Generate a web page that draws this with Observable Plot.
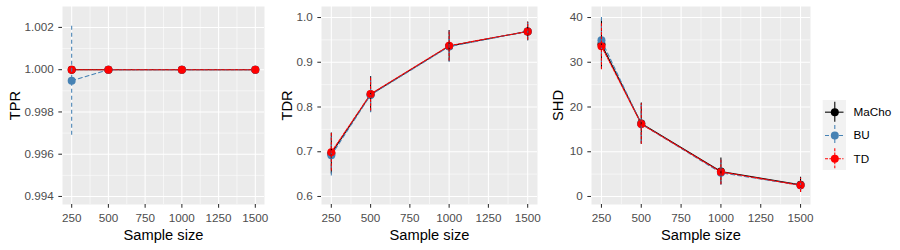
<!DOCTYPE html>
<html><head><meta charset="utf-8">
<script src="https://cdn.jsdelivr.net/npm/d3@7"></script>
<script src="https://cdn.jsdelivr.net/npm/@observablehq/plot@0.6"></script>
<style>
body{margin:0;background:#fff;}
#wrap{position:relative;width:900px;height:250px;font-family:"Liberation Sans",Arial,sans-serif;}
.p{position:absolute;top:0;}
</style></head><body><div id="wrap"></div>
<script>
// ---------- data ----------
const sampleSizes = [250, 500, 1000, 1500];
const seriesNames = ["MaCho", "BU", "TD"];
const seriesColors = ["#000000", "#4682B4", "#FF0000"];
const seriesDash = [null, "4,3", "3,1.3"];

const tprMaCho = [1, 1, 1, 1];            const tprMaChoSd = [0, 0, 0, 0];
const tprBU    = [0.99948, 1, 1, 1];      const tprBUSd    = [0.00258, 0, 0, 0];
const tprTD    = [1, 1, 1, 1];            const tprTDSd    = [0, 0, 0, 0];

const tdrMaCho = [0.696, 0.828, 0.936, 0.969]; const tdrMaChoSd = [0.046, 0.040, 0.035, 0.021];
const tdrBU    = [0.692, 0.827, 0.935, 0.969]; const tdrBUSd    = [0.046, 0.040, 0.035, 0.021];
const tdrTD    = [0.699, 0.829, 0.937, 0.969]; const tdrTDSd    = [0.042, 0.038, 0.034, 0.020];

const shdMaCho = [34.0, 16.3, 5.6, 2.6]; const shdMaChoSd = [5.5, 4.6, 3.0, 1.7];
const shdBU    = [34.9, 16.2, 5.3, 2.5]; const shdBUSd    = [5.2, 4.4, 2.8, 1.6];
const shdTD    = [33.6, 16.2, 5.5, 2.5]; const shdTDSd    = [5.3, 4.5, 2.9, 1.6];

const xTicks = [250, 500, 750, 1000, 1250, 1500];
const tprTicks = [0.994, 0.996, 0.998, 1.000, 1.002];
const tdrTicks = [0.6, 0.7, 0.8, 0.9, 1.0];
const shdTicks = [0, 10, 20, 30, 40];

// ---------- helpers ----------
function rowsFor(means, sds) {
  const out = [];
  seriesNames.forEach((s, k) => {
    sampleSizes.forEach((n, i) => {
      out.push({series: s, k, n, v: means[k][i], lo: means[k][i] - sds[k][i], hi: means[k][i] + sds[k][i], sd: sds[k][i]});
    });
  });
  return out;
}
const mids = t => d3.pairs(t).map(([a, b]) => (a + b) / 2);

const FONT = '"Liberation Sans", Arial, sans-serif';
const wrap = document.getElementById("wrap");

function panel({left, width, marginLeft, marginRight, yDomain, yTicks, yFormat, yLabel, labelDx, rows}) {
  const marks = [
    Plot.frame({fill: "#EBEBEB", stroke: null}),
    Plot.ruleY(mids(yTicks), {stroke: "white", strokeWidth: 0.55}),
    Plot.ruleX(mids(xTicks), {stroke: "white", strokeWidth: 0.55}),
    Plot.ruleY(yTicks, {stroke: "white", strokeWidth: 1.07}),
    Plot.ruleX(xTicks, {stroke: "white", strokeWidth: 1.07})
  ];
  seriesNames.forEach((s, k) => {
    marks.push(Plot.line(rows.filter(d => d.k === k), {x: "n", y: "v", stroke: seriesColors[k], strokeWidth: 1.07, strokeDasharray: seriesDash[k]}));
  });
  seriesNames.forEach((s, k) => {
    marks.push(Plot.dot(rows.filter(d => d.k === k), {x: "n", y: "v", r: 4, fill: seriesColors[k], stroke: null}));
  });
  seriesNames.forEach((s, k) => {
    marks.push(Plot.ruleX(rows.filter(d => d.k === k && d.sd > 0), {x: "n", y1: "lo", y2: "hi", stroke: seriesColors[k], strokeWidth: 1.07, strokeDasharray: seriesDash[k]}));
  });
  marks.push(
    Plot.axisX(xTicks, {tickSize: 3.67, tickPadding: 5.6, stroke: "#333333", strokeWidth: 1.07, fill: "#4D4D4D", fontSize: 11.7, tickFormat: d3.format("d"), label: null}),
    Plot.axisY(yTicks, {tickSize: 3.67, tickPadding: 5, stroke: "#333333", strokeWidth: 1.07, fill: "#4D4D4D", fontSize: 11.7, tickFormat: yFormat, label: null}),
    Plot.text(["Sample size"], {frameAnchor: "bottom", dy: 30.6, lineAnchor: "middle", fontSize: 14.67, fill: "black"}),
    Plot.text([yLabel], {frameAnchor: "left", dx: labelDx, rotate: -90, textAnchor: "middle", lineAnchor: "middle", fontSize: 14.67, fill: "black"})
  );
  const p = Plot.plot({
    width, height: 250,
    marginLeft, marginRight, marginTop: 6, marginBottom: 46,
    x: {domain: [187.5, 1562.5]},
    y: {domain: yDomain},
    style: {fontFamily: FONT, fontSize: "11.7px", background: "transparent", overflow: "visible"},
    marks
  });
  const div = document.createElement("div");
  div.className = "p";
  div.style.left = left + "px";
  div.appendChild(p);
  wrap.appendChild(div);
}

panel({left: 0, width: 270, marginLeft: 62, marginRight: 6,
  yDomain: [0.99362, 1.00299], yTicks: tprTicks, yFormat: d3.format(".3f"), yLabel: "TPR", labelDx: -47.5,
  rows: rowsFor([tprMaCho, tprBU, tprTD], [tprMaChoSd, tprBUSd, tprTDSd])});

panel({left: 275, width: 265, marginLeft: 46, marginRight: 3,
  yDomain: [0.5821, 1.0246], yTicks: tdrTicks, yFormat: d3.format(".1f"), yLabel: "TDR", labelDx: -34,
  rows: rowsFor([tdrMaCho, tdrBU, tdrTD], [tdrMaChoSd, tdrBUSd, tdrTDSd])});

panel({left: 545, width: 270, marginLeft: 46, marginRight: 5,
  yDomain: [-1.79, 42.46], yTicks: shdTicks, yFormat: d3.format("d"), yLabel: "SHD", labelDx: -33,
  rows: rowsFor([shdMaCho, shdBU, shdTD], [shdMaChoSd, shdBUSd, shdTDSd])});

// ---------- legend ----------
const legendRows = seriesNames.map((s, k) => ({s, k, pos: k + 0.5}));
const lmarks = [
  Plot.rect([0], {x1: () => 4.7, x2: () => 28, y1: () => 0, y2: () => 3, fill: "#F2F2F2"})
];
legendRows.forEach(d => {
  lmarks.push(
    Plot.ruleY([d], {y: "pos", x1: () => 7, x2: () => 25.5, stroke: seriesColors[d.k], strokeWidth: 1.07, strokeDasharray: seriesDash[d.k]}),
    Plot.ruleX([d], {x: () => 16.3, y1: r => r.pos - 0.43, y2: r => r.pos + 0.43, stroke: seriesColors[d.k], strokeWidth: 1.07, strokeDasharray: seriesDash[d.k]}),
    Plot.dot([d], {x: () => 16.3, y: "pos", r: 4, fill: seriesColors[d.k], stroke: null}),
    Plot.text([d], {x: () => 35, y: "pos", text: "s", textAnchor: "start", lineAnchor: "middle", fontSize: 11.7, fill: "black"})
  );
});
const leg = Plot.plot({
  width: 82, height: 76, margin: 0,
  x: {domain: [0, 82], range: [0, 82], axis: null},
  y: {domain: [0, 3], range: [2, 72], axis: null},
  style: {fontFamily: FONT, fontSize: "11.7px", background: "transparent", overflow: "visible"},
  marks: lmarks
});
const ldiv = document.createElement("div");
ldiv.className = "p";
ldiv.style.left = "818px";
ldiv.style.top = "98px";
ldiv.appendChild(leg);
wrap.appendChild(ldiv);
</script></body></html>
